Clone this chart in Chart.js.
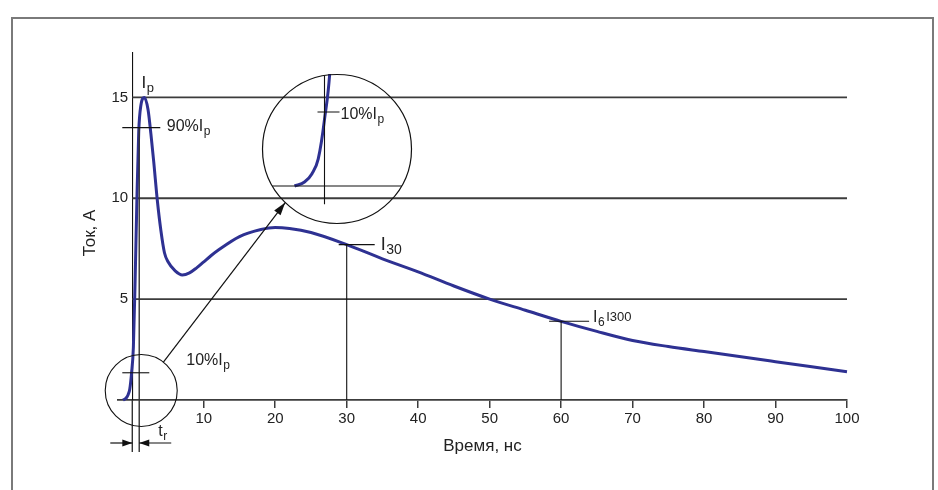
<!DOCTYPE html>
<html>
<head>
<meta charset="utf-8">
<script src="https://cdn.jsdelivr.net/npm/chart.js@4.4.1/dist/chart.umd.min.js"></script>
<style>
  html, body { margin: 0; padding: 0; background: #fff; }
  #wrap { position: relative; width: 938px; height: 490px; overflow: hidden; }
  #frame { position: absolute; left: 11px; top: 17px; width: 919px; height: 520px; border: 2px solid #7a7a7a; }
  #main { position: absolute; left: 0; top: 0; }
  #zoom { position: absolute; left: 260px; top: 72px; }
</style>
</head>
<body>
<div id="wrap">
  <div id="frame"></div>
  <canvas id="main" width="938" height="490"></canvas>
  <canvas id="zoom" width="154" height="154"></canvas>
</div>
<script>
// ток разряда
const timeNs   = [-1.3, -0.9, -0.6, -0.35, -0.1, 0.15, 0.4, 0.65, 0.9, 1.2, 1.7, 2.2, 2.6, 3.0, 3.5, 4.0, 4.5, 5.0, 6.0, 7.0, 8.0, 9.0, 10, 11, 12, 15, 18, 20, 22, 25, 30, 35, 40, 45, 50, 55, 60, 65, 70, 75, 80, 90, 100];
const currentA = [0, 0.08, 0.25, 0.55, 1.35, 2.6, 6.0, 10.0, 13.3, 14.6, 15.0, 14.4, 13.2, 11.8, 9.9, 8.4, 7.3, 6.85, 6.4, 6.2, 6.3, 6.55, 6.85, 7.15, 7.42, 8.1, 8.45, 8.55, 8.5, 8.3, 7.7, 7.0, 6.35, 5.65, 5.0, 4.45, 3.9, 3.4, 2.95, 2.65, 2.4, 1.9, 1.4];

const xTicks = [10, 20, 30, 40, 50, 60, 70, 80, 90, 100];
const xTickLabels = ['10', '20', '30', '40', '50', '60', '70', '80', '90', '100'];
const yTicks = [5, 10, 15];
const yTickLabels = ['5', '10', '15'];

// характерные точки
const peakT = 1.7, peakI = 15;
const riseEndT = 0.97;
const i90 = 13.5, i10 = 1.35;
const i30 = 7.7, i60 = 3.9;

const font = '"Liberation Sans", Arial, sans-serif';
const curveColor = '#2e3192';
const textColor = '#222';

const points = timeNs.map((t, i) => ({ x: t, y: currentA[i] }));

// геометрия лупы (в пикселях страницы)
const lens = { cx: 337, cy: 149, r: 74.5 };

const drawLabel = (ctx, x, y, main, sub, tail, size = 16) => {
    ctx.textAlign = 'left';
    ctx.textBaseline = 'middle';
    ctx.fillStyle = textColor;
    ctx.font = `${size}px ${font}`;
    ctx.fillText(main, x, y);
    let w = ctx.measureText(main).width;
    if (sub) {
        ctx.font = `${Math.round(size * 0.75)}px ${font}`;
        ctx.fillText(sub, x + w + 0.5, y + 5);
        w += ctx.measureText(sub).width + 1;
    }
    if (tail) {
        ctx.font = `${size - 3}px ${font}`;
        ctx.fillText(tail, x + w + 1, y);
    }
}

const line = (ctx, x1, y1, x2, y2) => {
    ctx.beginPath();
    ctx.moveTo(x1, y1);
    ctx.lineTo(x2, y2);
    ctx.stroke();
}

const arrow = (ctx, x1, y1, x2, y2, len = 11, half = 3.5) => {
    line(ctx, x1, y1, x2, y2);
    const a = Math.atan2(y2 - y1, x2 - x1);
    ctx.beginPath();
    ctx.moveTo(x2, y2);
    ctx.lineTo(x2 - len * Math.cos(a) + half * Math.sin(a), y2 - len * Math.sin(a) - half * Math.cos(a));
    ctx.lineTo(x2 - len * Math.cos(a) - half * Math.sin(a), y2 - len * Math.sin(a) + half * Math.cos(a));
    ctx.closePath();
    ctx.fill();
}

const mainMarks = {
    id: 'mainMarks',
    beforeDatasetsDraw(chart) {
        const { ctx, chartArea, scales: { x, y } } = chart;
        ctx.save();
        ctx.strokeStyle = '#3c3c3c';
        ctx.lineWidth = 1.8;
        yTicks.forEach(v => line(ctx, x.getPixelForValue(0), y.getPixelForValue(v), chartArea.right, y.getPixelForValue(v)));
        ctx.restore();
    },
    afterDatasetsDraw(chart) {
        const { ctx, chartArea, scales: { x, y } } = chart;
        const x0 = x.getPixelForValue(0);
        const xr = x.getPixelForValue(riseEndT);
        const yBottom = chartArea.bottom;
        ctx.save();

        // линии t_r
        ctx.strokeStyle = '#333';
        ctx.lineWidth = 1.4;
        line(ctx, x0, yBottom, x0, yBottom + 52);
        line(ctx, xr, y.getPixelForValue(i90), xr, yBottom + 52);

        // засечки 90% и 10%
        ctx.strokeStyle = '#111';
        ctx.lineWidth = 1.1;
        line(ctx, x0 - 10, y.getPixelForValue(i90), x0 + 28, y.getPixelForValue(i90));
        line(ctx, x0 - 10, y.getPixelForValue(i10), x0 + 17, y.getPixelForValue(i10));

        // I30, I60
        const x30 = x.getPixelForValue(30), y30 = y.getPixelForValue(i30);
        line(ctx, x30, y30, x30, yBottom);
        line(ctx, x30 - 8, y30, x30 + 28, y30);
        const x60 = x.getPixelForValue(60), y60 = y.getPixelForValue(i60);
        line(ctx, x60, y60, x60, yBottom);
        line(ctx, x60 - 12, y60, x60 + 28, y60);

        // малый круг и стрелка к лупе
        const sx = x.getPixelForValue(1.25), sy = y.getPixelForValue(0.47), sr = 36;
        ctx.beginPath();
        ctx.arc(sx, sy, sr, 0, Math.PI * 2);
        ctx.stroke();
        const a1 = -52 * Math.PI / 180, a2 = 134 * Math.PI / 180;
        ctx.fillStyle = '#111';
        ctx.lineWidth = 1.2;
        arrow(ctx, sx + sr * Math.cos(a1), sy + sr * Math.sin(a1),
            lens.cx + lens.r * Math.cos(a2), lens.cy + lens.r * Math.sin(a2), 13, 4);

        // стрелки t_r
        const ya = yBottom + 43;
        arrow(ctx, x0 - 22, ya, x0, ya, 10, 3.5);
        arrow(ctx, xr + 32, ya, xr, ya, 10, 3.5);

        // подписи
        drawLabel(ctx, x.getPixelForValue(peakT) - 3, y.getPixelForValue(peakI) - 14, 'I', 'p', null, 17);
        drawLabel(ctx, x0 + 34.5, y.getPixelForValue(i90) - 1, '90%I', 'p');
        drawLabel(ctx, x0 + 54, y.getPixelForValue(i10) - 12, '10%I', 'p');
        drawLabel(ctx, x30 + 34, y30, 'I', '30', null, 18);
        drawLabel(ctx, x60 + 32, y60 - 4, 'I', '6', 'I300');
        drawLabel(ctx, x0 + 26, ya - 11, 't', 'r');

        // подпись оси Y
        ctx.translate(90, 233);
        ctx.rotate(-Math.PI / 2);
        ctx.textAlign = 'center';
        ctx.font = `17px ${font}`;
        ctx.fillStyle = textColor;
        ctx.fillText('Ток, А', 0, 0);
        ctx.restore();
    }
}

const insetMarks = {
    id: 'insetMarks',
    afterDatasetsDraw(chart) {
        const { ctx, width, height, scales: { x, y } } = chart;
        const cx = width / 2, cy = height / 2;
        ctx.save();
        ctx.strokeStyle = '#111';
        ctx.lineWidth = 1.2;
        ctx.beginPath();
        ctx.arc(cx, cy, lens.r, 0, Math.PI * 2);
        ctx.stroke();
        ctx.save();
        ctx.clip();
        ctx.lineWidth = 1.1;
        line(ctx, 0, y.getPixelForValue(0), width, y.getPixelForValue(0));
        line(ctx, x.getPixelForValue(-0.1), 0, x.getPixelForValue(-0.1), y.getPixelForValue(-0.37));
        line(ctx, x.getPixelForValue(-0.38), y.getPixelForValue(1.5), x.getPixelForValue(0.5), y.getPixelForValue(1.5));
        ctx.restore();
        drawLabel(ctx, x.getPixelForValue(0.54), y.getPixelForValue(1.5) + 3, '10%I', 'p');
        ctx.restore();
    }
}

new Chart(document.getElementById('main'), {
    type: 'line',
    data: {
        datasets: [{
            data: points,
            borderColor: curveColor,
            borderWidth: 3,
            pointRadius: 0,
            cubicInterpolationMode: 'monotone',
            fill: false,
            clip: false
        }]
    },
    options: {
        responsive: false,
        animation: false,
        events: [],
        layout: { padding: { left: 118, right: 91, top: 53, bottom: 0 } },
        plugins: { legend: { display: false }, tooltip: { enabled: false } },
        scales: {
            x: {
                type: 'linear',
                min: -2,
                max: 100,
                afterBuildTicks: s => { s.ticks = xTicks.map(v => ({ value: v })); },
                afterFit: s => { s.height = 90; },
                grid: { drawOnChartArea: false, drawTicks: true, tickLength: 8, color: '#3c3c3c', lineWidth: 1.5 },
                border: { color: '#3c3c3c', width: 1.8 },
                ticks: {
                    color: textColor,
                    font: { family: font, size: 15 },
                    padding: 2,
                    maxRotation: 0,
                    callback: (v, i) => xTickLabels[i]
                },
                title: {
                    display: true,
                    text: 'Время, нс',
                    color: textColor,
                    font: { family: font, size: 17 },
                    padding: { top: 0, bottom: 33 }
                }
            },
            y: {
                type: 'linear',
                min: 0,
                max: 17.2,
                position: { x: 0 },
                afterBuildTicks: s => { s.ticks = yTicks.map(v => ({ value: v })); },
                grid: { drawOnChartArea: false, drawTicks: false },
                border: { color: '#111', width: 1.1 },
                ticks: {
                    color: textColor,
                    font: { family: font, size: 15 },
                    // у оси, стоящей на x = 0, отступ не работает — добавляю пробел
                    callback: (v, i) => yTickLabels[i] + ' '
                }
            }
        }
    },
    plugins: [mainMarks]
});

// лупа: тот же ток, растянутый фронт
new Chart(document.getElementById('zoom'), {
    type: 'line',
    data: {
        datasets: [{
            data: points,
            borderColor: curveColor,
            borderWidth: 3,
            pointRadius: 0,
            cubicInterpolationMode: 'monotone',
            fill: false
        }]
    },
    options: {
        responsive: false,
        animation: false,
        events: [],
        layout: { padding: 2 },
        plugins: { legend: { display: false }, tooltip: { enabled: false } },
        scales: {
            x: { type: 'linear', display: false, min: -2.6, max: 3.4 },
            y: { type: 'linear', display: false, min: -0.77, max: 2.27 }
        }
    },
    plugins: [insetMarks]
});
</script>
</body>
</html>
